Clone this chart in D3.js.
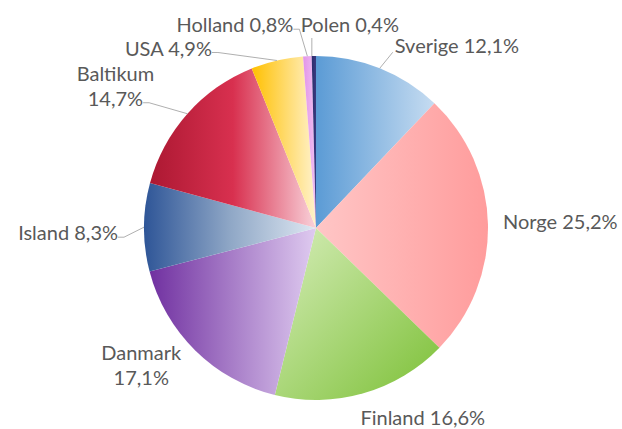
<!DOCTYPE html>
<html>
<head>
<meta charset="utf-8">
<script src="https://cdn.jsdelivr.net/npm/d3@7"></script>
<style>
  body { margin: 0; background: #fff; }
  figure { margin: 0; }
  .lbl { font-family: Lato, "Noto Sans", sans-serif; font-size: 20px; fill: #595959; }
</style>
</head>
<body>
<figure id="chart"></figure>
<script>
// data
var categories = ["Sverige", "Norge", "Finland", "Danmark", "Island", "Baltikum", "USA", "Holland", "Polen"];
var shares = [12.1, 25.2, 16.6, 17.1, 8.3, 14.7, 4.9, 0.8, 0.4];
var twoLine = ["Danmark", "Baltikum"];

// styles per slice: gradient stops
var gradStops = [
  ["#5b9bd5", "#c6dcf1"],
  ["#ffc6c6", "#ff9c9c"],
  ["#d6edb9", "#7cc036"],
  ["#7030a0", "#dfcbf0"],
  ["#2e5597", "#8fa7c6", "#dfe8f2"],
  ["#ac1832", "#d8304f", "#f9d2da"],
  ["#ffc000", "#fff2cc"],
  ["#e294e8", "#f0c0f3"],
  ["#2b2b6b", "#3a3a80"]
];
var diagonal = ["Finland"];

// label layout: offset from the arc edge at the slice middle, anchor, leader type
var labelOffset = [[15, -15], [15, 4], [-3, 32], [-54, 35], [-26, 13], [-72, -8], [-65, -5], [-14, -24], [-13, -24]];
var labelAnchor = ["start", "start", "start", "middle", "end", "middle", "end", "end", "start"];
var leaderType = ["bl", null, null, null, "r", "r", "r", "r", "b"];

var dimensions = { width: 622, height: 429, cx: 316, cy: 228, radius: 172 };

var svg = d3.select("figure#chart")
  .append("svg")
  .attr("width", dimensions.width)
  .attr("height", dimensions.height);

var defs = svg.append("defs");

var data = categories.map(function (c, i) { return { name: c, value: shares[i], i: i }; });

var pie = d3.pie().sort(null).value(d => d.value);
var arc = d3.arc().innerRadius(0).outerRadius(dimensions.radius);
var arcs = pie(data);

arcs.forEach(function (a) {
  var stops = gradStops[a.data.i];
  var g = defs.append("linearGradient")
    .attr("id", "grad" + a.data.i)
    .attr("x1", 0).attr("y1", 0)
    .attr("x2", 1).attr("y2", diagonal.indexOf(a.data.name) >= 0 ? 1 : 0);
  stops.forEach(function (s, k) {
    g.append("stop").attr("offset", k / (stops.length - 1)).attr("stop-color", s);
  });
});

var g = svg.append("g")
  .attr("transform", `translate(${dimensions.cx},${dimensions.cy})`);

g.selectAll("path.slice")
  .data(arcs)
  .enter()
  .append("path")
  .attr("class", "slice")
  .attr("d", arc)
  .attr("fill", d => `url(#grad${d.data.i})`);

function edgePoint(a) {
  var m = (a.startAngle + a.endAngle) / 2;
  return [dimensions.radius * Math.sin(m), -dimensions.radius * Math.cos(m)];
}

function fmt(v) { return d3.format(".1f")(v).replace(".", ",") + "%"; }

arcs.forEach(function (a) {
  var i = a.data.i;
  var e = edgePoint(a);
  var x = e[0] + labelOffset[i][0], y = e[1] + labelOffset[i][1];
  var t = g.append("text")
    .attr("class", "lbl")
    .attr("text-anchor", labelAnchor[i]);
  if (twoLine.indexOf(a.data.name) >= 0) {
    t.append("tspan").attr("x", x).attr("y", y - 25).text(a.data.name);
    t.append("tspan").attr("x", x).attr("y", y).text(fmt(a.data.value));
  } else {
    t.attr("x", x).attr("y", y).text(a.data.name + " " + fmt(a.data.value));
  }
  var lt = leaderType[i];
  if (!lt) return;
  var bb = t.node().getBBox();
  var pts;
  if (lt === "bl") {
    pts = [[bb.x - 2, y - 1], e];
  } else if (lt === "r") {
    var last = t.selectAll("tspan").size() ? t.select("tspan:last-child").node().getBBox() : bb;
    pts = [[last.x + last.width, y - 3], [last.x + last.width + 6, y - 3], e];
  } else {
    pts = [[e[0] - 2, y + 6], [e[0] - 2, e[1]]];
  }
  g.append("path")
    .attr("d", d3.line()(pts))
    .attr("fill", "none")
    .attr("stroke", "#a6a6a6")
    .attr("stroke-width", 0.9);
});
</script>
</body>
</html>
